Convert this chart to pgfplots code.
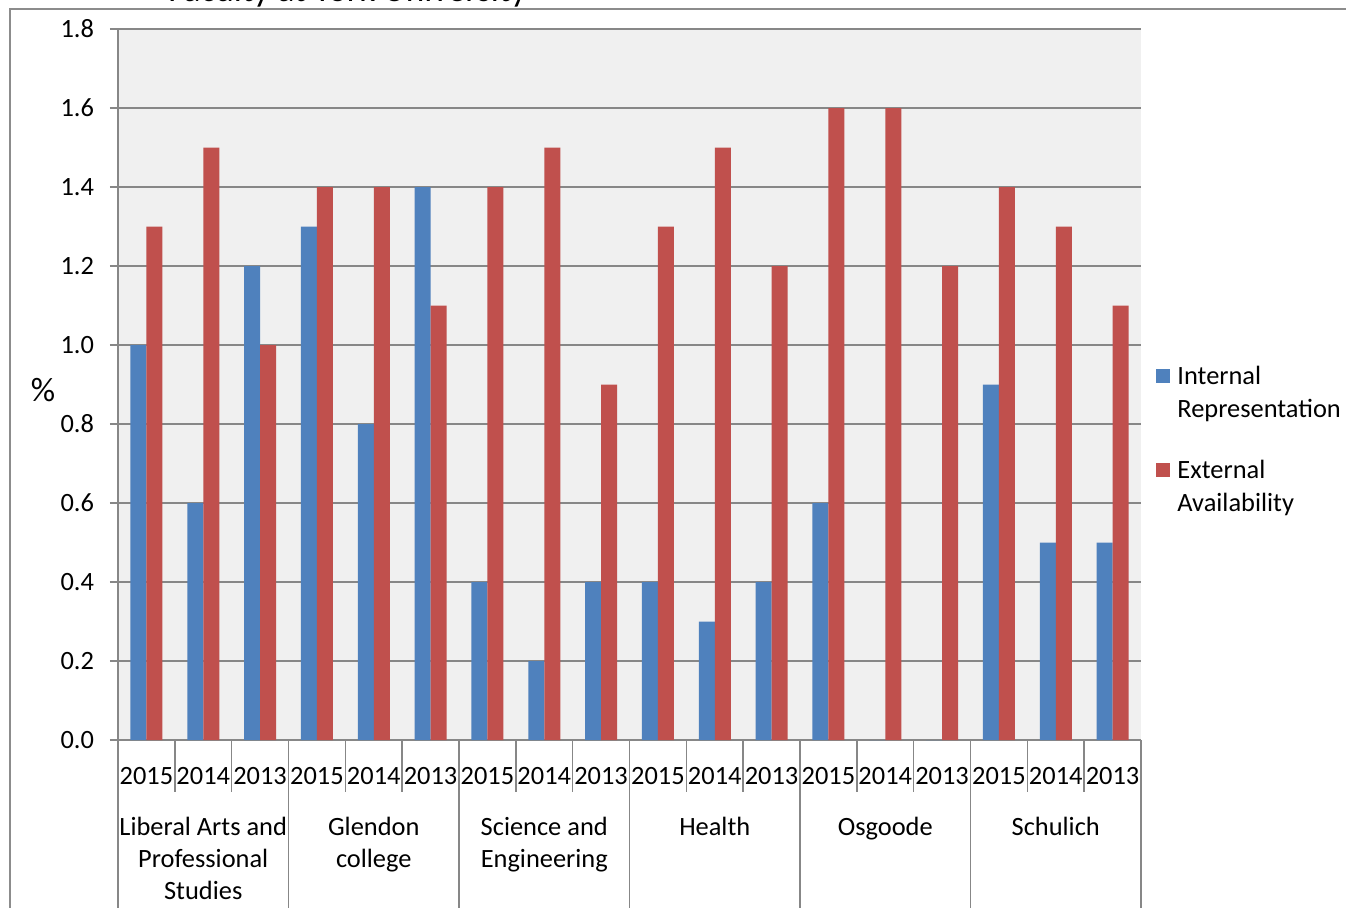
\documentclass[border=0pt]{standalone}
\usepackage{pgfplots}
\pgfplotsset{compat=1.18}
\usepackage{pgfplotstable}
\usepackage{fontspec}
\setmainfont{Carlito}
\definecolor{ibar}{HTML}{4F81BD}
\definecolor{ebar}{HTML}{C0504D}
\definecolor{gridc}{HTML}{878787}
\definecolor{plotbg}{HTML}{F0F0F0}
\definecolor{framec}{HTML}{8C8C8C}
\newcommand\lblfont{\fontsize{13.2}{16}\selectfont}
\newcommand\legfont{\fontsize{13.2}{16.5}\selectfont}

\pgfplotstableread{
x internal external
0  1.0 1.3
1  0.6 1.5
2  1.2 1.0
3  1.3 1.4
4  0.8 1.4
5  1.4 1.1
6  0.4 1.4
7  0.2 1.5
8  0.4 0.9
9  0.4 1.3
10 0.3 1.5
11 0.4 1.2
12 0.6 1.6
13 0.0 1.6
14 0.0 1.2
15 0.9 1.4
16 0.5 1.3
17 0.5 1.1
}\datatable

\begin{document}
\begin{tikzpicture}
\path[use as bounding box, clip] (0,0) rectangle (673pt,453.5pt);
\draw[framec, line width=0.8pt] (5pt,-5pt) -- (5pt,449pt) -- (680pt,449pt);
\node[anchor=base west, inner sep=0pt, font=\fontsize{17.6}{20}\selectfont] at (84pt,452.5pt) {Faculty at York University};
\begin{axis}[
  at={(59pt,83.5pt)}, anchor=south west,
  scale only axis, width=511.5pt, height=355.5pt,
  xmin=-0.5, xmax=17.5, ymin=0, ymax=1.8,
  axis background/.style={fill=plotbg},
  ybar=0pt, bar width=8pt,
  axis x line*=bottom, axis y line*=left,
  x axis line style={-, draw=gridc, line width=0.8pt},
  y axis line style={-, draw=gridc, line width=0.8pt},
  ytick={0,0.2,0.4,0.6,0.8,1.0,1.2,1.4,1.6,1.8},
  ymajorgrids, grid style={gridc, line width=1pt},
  tick align=outside, major tick length=4pt,
  ytick style={draw=gridc, line width=0.8pt},
  xtick style={draw=none},
  xtick={0,...,17},
  xticklabels={2015,2014,2013,2015,2014,2013,2015,2014,2013,2015,2014,2013,2015,2014,2013,2015,2014,2013},
  xticklabel style={anchor=base, yshift=-18pt},
  yticklabel style={xshift=-4.5pt},
  tick label style={font=\lblfont},
  /pgf/number format/.cd, fixed, fixed zerofill, precision=1, assume math mode=true,
  /pgfplots/.cd,
  clip=false,
  legend style={draw=none, fill=none, inner sep=0pt, at={(1.0147,0.5386)}, anchor=north west,
    font=\legfont, row sep=30pt, column sep=1.5pt, cells={anchor=base west}},
  legend image code/.code={\fill[#1] (0pt,1pt) rectangle (7pt,8pt);},
]
\addplot[fill=ibar, draw=none] table[x=x,y=internal]{\datatable};
\addlegendentry{\begin{tabular}[t]{@{}l@{}}Internal\\Representation\end{tabular}}
\addplot[fill=ebar, draw=none] table[x=x,y=external]{\datatable};
\addlegendentry{\begin{tabular}[t]{@{}l@{}}External\\Availability\end{tabular}}
\pgfplotsinvokeforeach{0.5,1.5,3.5,4.5,6.5,7.5,9.5,10.5,12.5,13.5,15.5,16.5}{
  \draw[gridc, line width=0.8pt] (axis cs:#1,0) -- ++(0pt,-26pt);
}
\pgfplotsinvokeforeach{-0.5,2.5,5.5,8.5,11.5,14.5,17.5}{
  \draw[gridc, line width=0.8pt] (axis cs:#1,0) -- ++(0pt,-100pt);
}
\node[anchor=base, inner sep=0pt, font=\lblfont, yshift=-47.5pt] at (axis cs:1,0) {\begin{tabular}[t]{@{}c@{}}Liberal Arts and\\Professional\\Studies\end{tabular}};
\node[anchor=base, inner sep=0pt, font=\lblfont, yshift=-47.5pt] at (axis cs:4,0) {\begin{tabular}[t]{@{}c@{}}Glendon\\college\end{tabular}};
\node[anchor=base, inner sep=0pt, font=\lblfont, yshift=-47.5pt] at (axis cs:7,0) {\begin{tabular}[t]{@{}c@{}}Science and\\Engineering\end{tabular}};
\node[anchor=base, inner sep=0pt, font=\lblfont, yshift=-47.5pt] at (axis cs:10,0) {Health};
\node[anchor=base, inner sep=0pt, font=\lblfont, yshift=-47.5pt] at (axis cs:13,0) {Osgoode};
\node[anchor=base, inner sep=0pt, font=\lblfont, yshift=-47.5pt] at (axis cs:16,0) {Schulich};
\end{axis}
\node[font=\fontsize{17}{19}\selectfont] at (21.5pt,258.5pt) {\%};
\end{tikzpicture}
\end{document}
